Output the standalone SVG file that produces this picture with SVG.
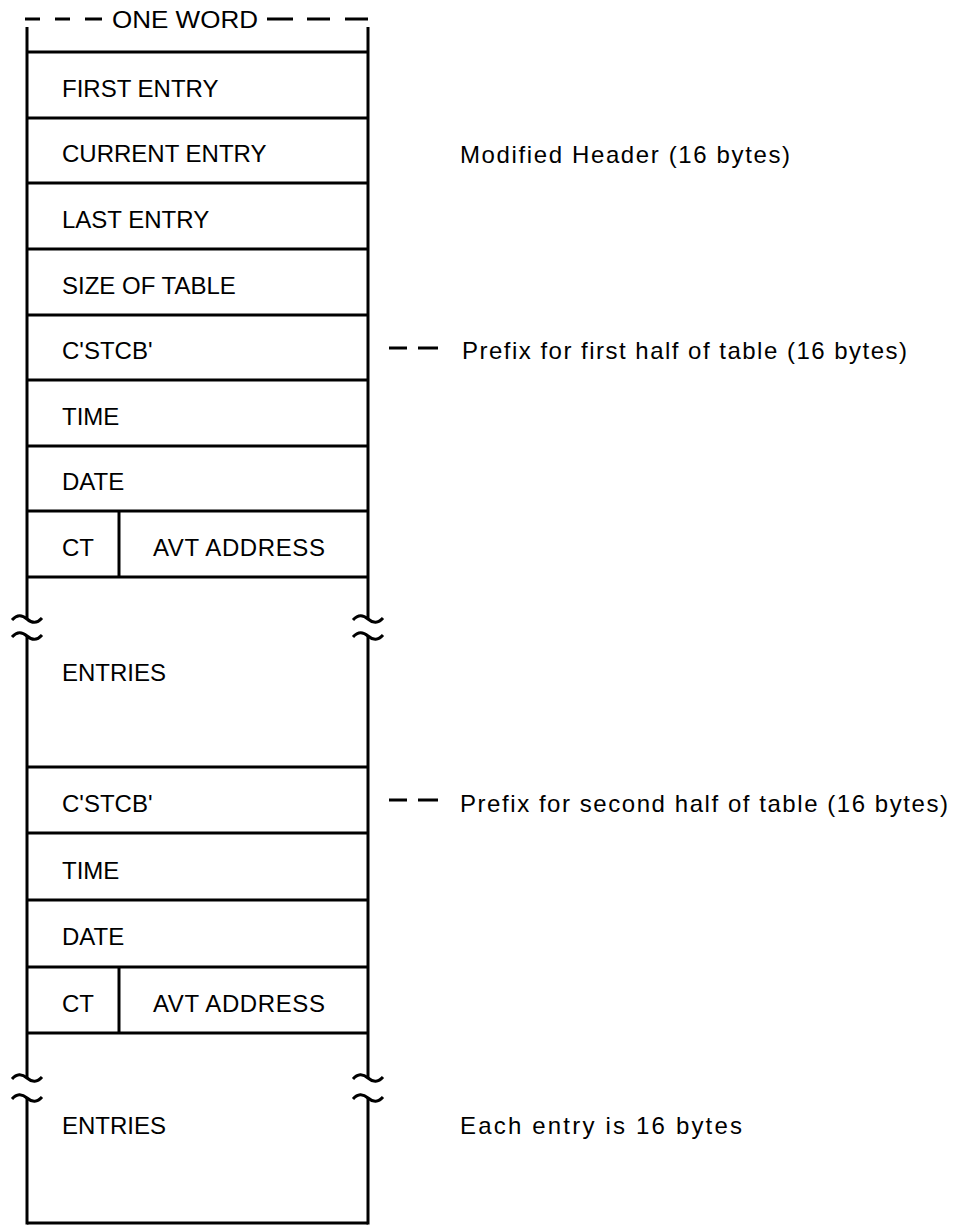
<svg xmlns="http://www.w3.org/2000/svg" width="976" height="1226" viewBox="0 0 976 1226">
<style>
.ln{stroke:#000;stroke-width:3;fill:none;stroke-linecap:butt}
.hl{stroke:#000;stroke-width:2.8;fill:none}
.t{font-family:"Liberation Sans",Arial,sans-serif;font-size:24px;fill:#000}
.n{font-family:"Liberation Sans",Arial,sans-serif;font-size:24px;fill:#000}
</style>
<rect width="976" height="1226" fill="#fff"/>
<g id="connectors">
<path class="ln" d="M25,19H40M55,19H70M85,19H102M267,19H293M307,19H330M345,19H368"/>
<path class="ln" d="M389,348H407M418,348H438"/>
<path class="ln" d="M389,800H407M418,800H438"/>
</g>
<g id="frame">
<path class="ln" d="M27,27V619M368,27V619M27,636V1078M368,636V1078M27,1098V1224.5M368,1098V1224.5"/>
<path class="ln" d="M12,620 Q19,612 27,619 T42,618M12,637 Q19,629 27,636 T42,635M353,620 Q360,612 368,619 T383,618M353,637 Q360,629 368,636 T383,635"/>
<path class="ln" d="M12,1079 Q19,1071 27,1078 T42,1077M12,1099 Q19,1091 27,1098 T42,1097M353,1079 Q360,1071 368,1078 T383,1077M353,1099 Q360,1091 368,1098 T383,1097"/>
<path class="hl" d="M27,1223H368"/>
</g>
<g id="onewordlabel"><text class="t" x="112" y="28" textLength="146" lengthAdjust="spacingAndGlyphs">ONE WORD</text></g>
<g id="row-first"><path class="hl" d="M27,52H368M27,118H368"/><text class="t" x="62" y="97">FIRST ENTRY</text></g>
<g id="row-current"><path class="hl" d="M27,183H368"/><text class="t" x="62" y="162">CURRENT ENTRY</text></g>
<g id="row-last"><path class="hl" d="M27,249H368"/><text class="t" x="62" y="228">LAST ENTRY</text></g>
<g id="row-size"><path class="hl" d="M27,315H368"/><text class="t" x="62" y="294">SIZE OF TABLE</text></g>
<g id="row-stcb1"><path class="hl" d="M27,380H368"/><text class="t" x="62" y="359">C'STCB'</text></g>
<g id="row-time1"><path class="hl" d="M27,446H368"/><text class="t" x="62" y="425">TIME</text></g>
<g id="row-date1"><path class="hl" d="M27,511H368"/><text class="t" x="62" y="490">DATE</text></g>
<g id="row-ct1"><path class="hl" d="M27,577H368"/><path class="ln" d="M119,511V577"/><text class="t" x="62" y="556">CT</text><text class="t" x="153" y="556" textLength="172">AVT ADDRESS</text></g>
<g id="entries1"><text class="t" x="62" y="681">ENTRIES</text></g>
<g id="row-stcb2"><path class="hl" d="M27,767H368M27,833H368"/><text class="t" x="62" y="812">C'STCB'</text></g>
<g id="row-time2"><path class="hl" d="M27,900H368"/><text class="t" x="62" y="879">TIME</text></g>
<g id="row-date2"><path class="hl" d="M27,967H368"/><text class="t" x="62" y="945">DATE</text></g>
<g id="row-ct2"><path class="hl" d="M27,1033H368"/><path class="ln" d="M119,967V1033"/><text class="t" x="62" y="1012">CT</text><text class="t" x="153" y="1012" textLength="172">AVT ADDRESS</text></g>
<g id="entries2"><text class="t" x="62" y="1134">ENTRIES</text></g>
<g id="note-header"><text class="n" x="460" y="163" textLength="330">Modified Header (16 bytes)</text></g>
<g id="note-prefix1"><text class="n" x="462" y="359" textLength="445">Prefix for first half of table (16 bytes)</text></g>
<g id="note-prefix2"><text class="n" x="460" y="812" textLength="488">Prefix for second half of table (16 bytes)</text></g>
<g id="note-entry"><text class="n" x="460" y="1134" textLength="282">Each entry is 16 bytes</text></g>
</svg>
